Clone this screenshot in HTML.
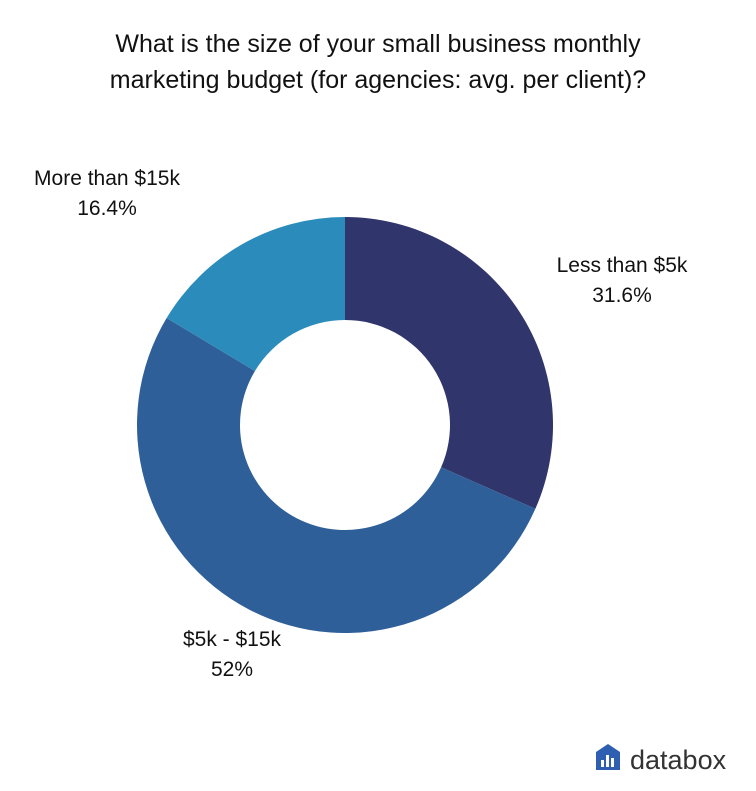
<!DOCTYPE html>
<html><head><meta charset="utf-8"><style>
body{margin:0;background:#fff;width:756px;height:786px;overflow:hidden;font-family:"Liberation Sans",sans-serif}
</style></head><body>
<svg width="756" height="786">
<text x="378" y="52" text-anchor="middle" font-size="25" fill="#111">What is the size of your small business monthly</text>
<text x="378" y="88" text-anchor="middle" font-size="25" fill="#111">marketing budget (for agencies: avg. per client)?</text>
<g id="slices"></g>
<g id="labels" font-size="21" fill="#111" text-anchor="middle"></g>
<g>
<path d="M596 752 L608 744 L620 752 L620 770 L596 770 Z" fill="#2e5fb0"/>
<rect x="601" y="760" width="3" height="7" fill="#fff"/>
<rect x="606" y="755" width="3" height="12" fill="#fff"/>
<rect x="611" y="758" width="3" height="9" fill="#fff"/>
<text x="630" y="769" font-size="27" fill="#333">databox</text>
</g>
</svg>
<script>
const categories=["Less than $5k","$5k - $15k","More than $15k"];
const values=[31.6,52,16.4];
const valueLabels=["31.6%","52%","16.4%"];
const colors=["#30356b","#2e5f99","#2b8cbb"];
const cx=345,cy=425,R=208,r=105;
const ns="http://www.w3.org/2000/svg";
const total=values.reduce((a,b)=>a+b,0);
let a0=0;
const pt=(rad,a)=>[cx+rad*Math.sin(a),cy-rad*Math.cos(a)];
const labelPos=[[622,272],[232,646],[107,185]];
values.forEach((v,i)=>{
 const a1=a0+v/total*2*Math.PI;
 const large=(a1-a0)>Math.PI?1:0;
 const [x0,y0]=pt(R,a0),[x1,y1]=pt(R,a1),[x2,y2]=pt(r,a1),[x3,y3]=pt(r,a0);
 const p=document.createElementNS(ns,"path");
 p.setAttribute("d",`M${x0} ${y0} A${R} ${R} 0 ${large} 1 ${x1} ${y1} L${x2} ${y2} A${r} ${r} 0 ${large} 0 ${x3} ${y3} Z`);
 p.setAttribute("fill",colors[i]);
 
 
 document.getElementById("slices").appendChild(p);
 const t=document.createElementNS(ns,"text");
 t.setAttribute("x",labelPos[i][0]);t.setAttribute("y",labelPos[i][1]);
 
 
 t.innerHTML=`<tspan x="${labelPos[i][0]}">${categories[i]}</tspan><tspan x="${labelPos[i][0]}" dy="30">${valueLabels[i]}</tspan>`;
 document.getElementById("labels").appendChild(t);
 a0=a1;
});
</script>
</body></html>
